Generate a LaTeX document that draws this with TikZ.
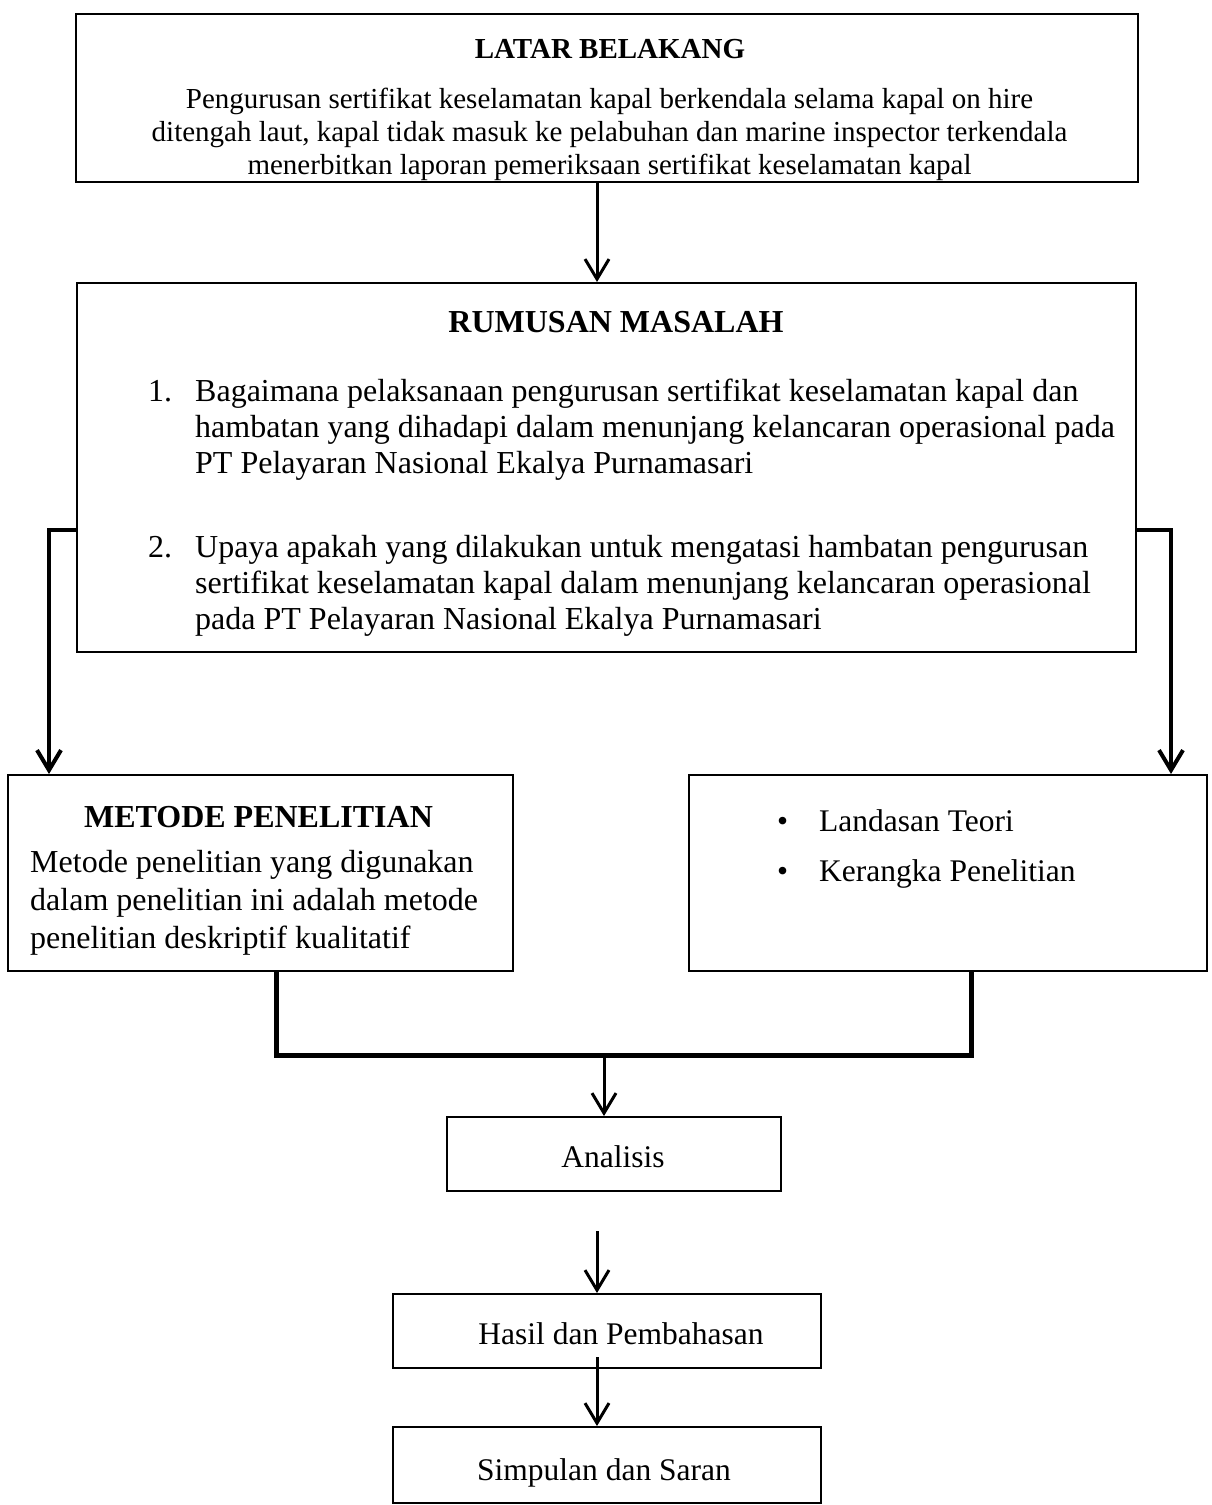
\documentclass[tikz,border=0pt]{standalone}
\usepackage{fontspec}
\setmainfont{Liberation Serif}
\usetikzlibrary{arrows.meta}
\begin{document}
\begin{tikzpicture}[x=1pt,y=-1pt,
  box/.style={draw, line width=2pt, inner sep=0pt},
  txt/.style={inner sep=0pt, font=\fontsize{31.5}{36}\selectfont},
  bigtxt/.style={inner sep=0pt, font=\fontsize{32}{36}\selectfont},
  latartxt/.style={inner sep=0pt, font=\fontsize{29}{33}\selectfont},
  conn/.style={line width=3pt, -{Straight Barb[length=20pt,width=24pt]}},
  sideconn/.style={line width=4pt, -{Straight Barb[length=20pt,width=24pt]}},
  bracket/.style={line width=5pt}
]
\useasboundingbox (0,0) rectangle (1211,1505);

% boxes
\node[box, minimum width=1062pt, minimum height=168pt] (latar) at (607,98) {};
\node[box, minimum width=1059pt, minimum height=369pt] (rumusan) at (606.5,467.5) {};
\node[box, minimum width=505pt, minimum height=196pt] (metode) at (260.5,873) {};
\node[box, minimum width=518pt, minimum height=196pt] (teori) at (948,873) {};
\node[box, minimum width=334pt, minimum height=74pt] (analisis) at (614,1154) {};
\node[box, minimum width=428pt, minimum height=74pt] (hasil) at (607,1331) {};
\node[box, minimum width=428pt, minimum height=76pt] (simpulan) at (607,1465) {};

% texts (anchor base of a multi-line node = baseline of its last line)
\node[latartxt, font=\fontsize{29}{33}\selectfont\bfseries, anchor=base] (tlatar) at (610,58) {LATAR BELAKANG};
\node[latartxt, anchor=base, align=center] (blatar) at (609.5,174) {Pengurusan sertifikat keselamatan kapal berkendala selama kapal on hire\\ditengah laut, kapal tidak masuk ke pelabuhan dan marine inspector terkendala\\menerbitkan laporan pemeriksaan sertifikat keselamatan kapal};

\node[bigtxt, font=\fontsize{32}{36}\selectfont\bfseries, anchor=base] (trumusan) at (616,332) {RUMUSAN MASALAH};
\node[bigtxt, anchor=base west] (n1) at (148,401) {1.};
\node[bigtxt, anchor=base west, align=left] (i1) at (195,473) {Bagaimana pelaksanaan pengurusan sertifikat keselamatan kapal dan\\hambatan yang dihadapi dalam menunjang kelancaran operasional pada\\PT Pelayaran Nasional Ekalya Purnamasari};
\node[bigtxt, anchor=base west] (n2) at (148,557) {2.};
\node[bigtxt, anchor=base west, align=left] (i2) at (195,629) {Upaya apakah yang dilakukan untuk mengatasi hambatan pengurusan\\sertifikat keselamatan kapal dalam menunjang kelancaran operasional\\pada PT Pelayaran Nasional Ekalya Purnamasari};

\node[bigtxt, font=\fontsize{32}{38}\selectfont\bfseries, anchor=base] (tmetode) at (258.5,827) {METODE PENELITIAN};
\node[bigtxt, font=\fontsize{32}{38}\selectfont, anchor=base west, align=left] (bmetode) at (30,948) {Metode penelitian yang digunakan\\dalam penelitian ini adalah metode\\penelitian deskriptif kualitatif};

\node[txt, anchor=base west] (bul1) at (777,831) {•};
\node[txt, anchor=base west] (lt) at (819,831) {Landasan Teori};
\node[txt, anchor=base west] (bul2) at (777,881) {•};
\node[txt, anchor=base west] (kp) at (819,881) {Kerangka Penelitian};

\node[txt, anchor=base] (tanalisis) at (613,1167) {Analisis};
\node[txt, anchor=base] (thasil) at (621,1344) {Hasil dan Pembahasan};
\node[txt, anchor=base] (tsimpulan) at (604,1480) {Simpulan dan Saran};

% connectors
\coordinate (c1) at (597,0);
\draw[conn] (latar.south -| c1) -- (rumusan.north -| c1);
\draw[sideconn] ([yshift=-62.5pt]rumusan.west) -| ([xshift=42pt]metode.north west);
\draw[sideconn] ([yshift=-62.5pt]rumusan.east) -| ([xshift=-37pt]teori.north east);
\coordinate (j) at (604,1055);
\draw[bracket] ([xshift=15.5pt]metode.south) |- (j) -| ([xshift=23pt]teori.south);
\draw[conn] (j) -- (analisis.north -| j);
\coordinate (a2) at (597,1231);
\draw[conn] (a2) -- (hasil.north -| a2);
\coordinate (h2) at (597,1357);
\draw[conn] (h2) -- (simpulan.north -| h2);
\end{tikzpicture}
\end{document}
